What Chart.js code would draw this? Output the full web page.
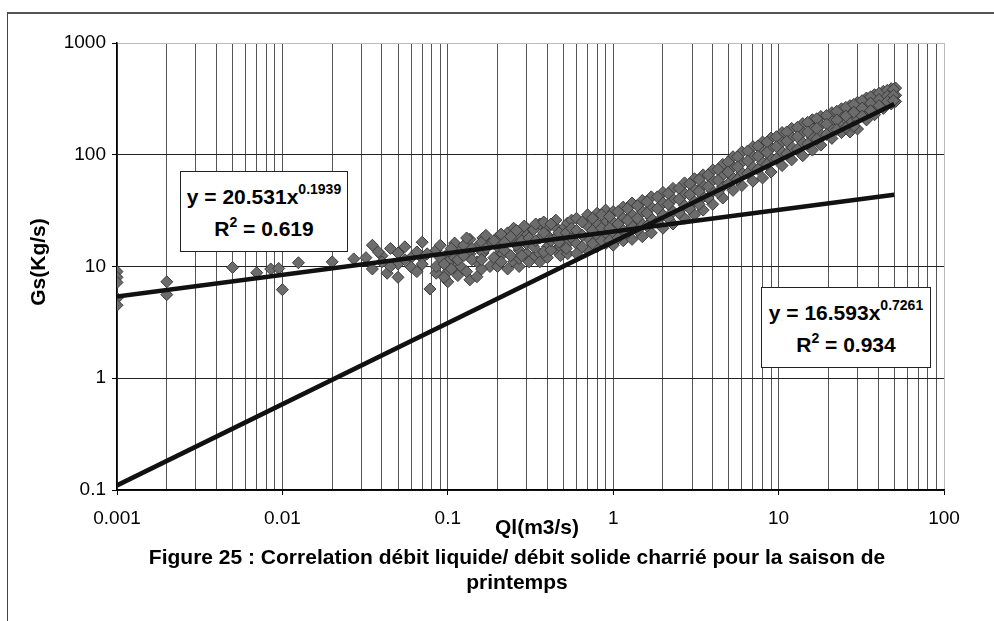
<!DOCTYPE html>
<html>
<head>
<meta charset="utf-8">
<script src="https://cdn.jsdelivr.net/npm/chart.js@4.4.0/dist/chart.umd.min.js"></script>
<style>
  body { margin: 0; background: #fff; overflow: hidden; font-family: "Liberation Sans", Arial, sans-serif; }
  #wrap { position: relative; width: 994px; height: 621px; }
  #frame { position: absolute; left: 7px; top: 12px; width: 1100px; height: 700px; border-left: 1px solid #444; border-top: 2px solid #555; }
  #gastos { position: absolute; left: 0; top: 0; }
  .eq { position: absolute; background: #fff; border: 1px solid #222; box-sizing: border-box; padding-top: 9px;
        font-weight: bold; font-size: 21px; line-height: 32px; text-align: center; color: #000; white-space: nowrap; }
  .eq .sup { font-size: 14px; line-height: 1; vertical-align: 10px; }
  .eq .sq { font-size: 14px; line-height: 1; vertical-align: 9px; }
  .title { position: absolute; font-weight: bold; font-size: 21px; line-height: 24px; text-align: center; color: #000; white-space: nowrap; }
  #ytitle { left: -62px; top: 250px; width: 200px; transform: rotate(-90deg); }
  #xtitle { left: 437px; top: 515px; width: 200px; }
  #caption { position: absolute; left: 40px; width: 954px; top: 544px; text-align: center; font-weight: bold;
             font-size: 21px; line-height: 25px; white-space: nowrap; color: #000; }
</style>
</head>
<body>
<div id="wrap">
  <div id="frame"></div>
  <canvas id="gastos" width="994" height="621"></canvas>
  <div class="eq" style="left:180px;top:171px;width:168px;height:81px">y = 20.531x<span class="sup">0.1939</span><br>R<span class="sq">2</span> = 0.619</div>
  <div class="eq" style="left:761px;top:287px;width:170px;height:81px">y = 16.593x<span class="sup">0.7261</span><br>R<span class="sq">2</span> = 0.934</div>
  <div class="title" id="ytitle">Gs(Kg/s)</div>
  <div class="title" id="xtitle">Ql(m3/s)</div>
  <div id="caption">Figure 25 : Correlation débit liquide/ débit solide charrié pour la saison de<br>printemps</div>
</div>
<script>
// axes
const xMajor = [0.001, 0.01, 0.1, 1, 10, 100];
const xLabels = ["0.001", "0.01", "0.1", "1", "10", "100"];
const yMajor = [0.1, 1, 10, 100, 1000];
const yLabels = ["0.1", "1", "10", "100", "1000"];

const qlValues = [
  // faibles debits
  0.001, 0.001, 0.001, 0.001, 0.001, 0.002, 0.002, 0.005, 0.007, 0.0085, 0.0095, 0.01, 0.0125, 0.02, 0.027,
  // nuage 0.03 - 0.56
  0.035, 0.035, 0.04, 0.04, 0.043, 0.05, 0.05, 0.05, 0.06, 0.06, 0.07, 0.07, 0.07, 0.078,
  0.085, 0.085, 0.085, 0.1, 0.1, 0.1, 0.1, 0.11, 0.11, 0.11, 0.12, 0.12, 0.136, 0.136, 0.136,
  0.15, 0.15, 0.15, 0.163, 0.163, 0.18, 0.18, 0.2, 0.2, 0.2, 0.2, 0.215, 0.23, 0.23,
  0.25, 0.25, 0.25, 0.27, 0.27, 0.27, 0.27, 0.3, 0.3, 0.3, 0.3, 0.33, 0.33, 0.33,
  0.36, 0.36, 0.36, 0.36, 0.4, 0.4, 0.4, 0.4, 0.45, 0.45, 0.45, 0.45, 0.48, 0.48, 0.5, 0.5, 0.53, 0.53, 0.53,
  0.032, 0.038, 0.045, 0.045, 0.055, 0.055, 0.065, 0.065, 0.075, 0.09, 0.09, 0.095, 0.095,
  0.105, 0.105, 0.115, 0.115, 0.125, 0.125, 0.13, 0.13, 0.14, 0.14, 0.16, 0.16, 0.16,
  0.17, 0.17, 0.19, 0.19, 0.21, 0.21, 0.22, 0.22, 0.24, 0.24, 0.26, 0.26, 0.28, 0.28, 0.29,
  0.31, 0.31, 0.34, 0.34, 0.38, 0.38, 0.38, 0.42, 0.42, 0.42, 0.47, 0.47, 0.52, 0.52, 0.56, 0.56, 0.56,
  // bande 0.6 - 51
  0.6, 0.6, 0.6, 0.6, 0.7, 0.7, 0.7, 0.7, 0.8, 0.8, 0.8, 0.8, 0.9, 0.9, 0.9, 0.9,
  1.0, 1.0, 1.0, 1.0, 1.15, 1.15, 1.15, 1.15, 1.3, 1.3, 1.3, 1.3, 1.5, 1.5, 1.5, 1.5,
  1.7, 1.7, 1.7, 1.7, 2.0, 2.0, 2.0, 2.0, 2.3, 2.3, 2.3, 2.3, 2.7, 2.7, 2.7, 2.7,
  3.1, 3.1, 3.1, 3.1, 3.5, 3.5, 3.5, 3.5, 4.0, 4.0, 4.0, 4.0, 4.6, 4.6, 4.6, 4.6,
  5.3, 5.3, 5.3, 5.3, 6.0, 6.0, 6.0, 6.0, 7.0, 7.0, 7.0, 7.0, 8.0, 8.0, 8.0, 8.0,
  9.0, 9.0, 9.0, 9.0, 10.5, 10.5, 10.5, 10.5, 12, 12, 12, 12, 14, 14, 14, 14,
  16, 16, 16, 16, 18, 18, 18, 18, 21, 21, 21, 21, 24, 24, 24, 24,
  27, 27, 27, 27, 30, 30, 30, 30, 34, 34, 34, 34, 38, 38, 38, 38,
  43, 43, 43, 43, 48, 48, 48, 48, 51, 51, 51,
  0.65, 0.65, 0.65, 0.75, 0.75, 0.75, 0.85, 0.85, 0.85, 0.95, 0.95, 0.95,
  1.07, 1.07, 1.07, 1.22, 1.22, 1.22, 1.4, 1.4, 1.4, 1.6, 1.6, 1.6,
  1.85, 1.85, 1.85, 2.15, 2.15, 2.15, 2.5, 2.5, 2.5, 2.9, 2.9, 2.9,
  3.3, 3.3, 3.3, 3.75, 3.75, 3.75, 4.3, 4.3, 4.3, 4.95, 4.95, 4.95,
  5.65, 5.65, 5.65, 6.5, 6.5, 6.5, 7.5, 7.5, 7.5, 8.5, 8.5, 8.5,
  9.7, 9.7, 9.7, 11.2, 11.2, 11.2, 13, 13, 13, 15, 15, 15,
  17, 17, 17, 19.5, 19.5, 19.5, 22.5, 22.5, 22.5, 25.5, 25.5, 25.5,
  28.5, 28.5, 28.5, 32, 32, 32, 36, 36, 36, 40.5, 40.5, 40.5,
  45.5, 45.5, 45.5, 49.5, 49.5, 49.5
];
const gsValues = [
  9.0, 8.0, 7.2, 5.2, 4.5, 7.3, 5.6, 9.8, 8.8, 9.5, 9.6, 6.2, 10.8, 11.0, 11.7,
  15.5, 9.5, 12.5, 11, 8.7, 13.2, 10.5, 8.0, 12, 9.9, 16.5, 11.9, 10.5, 6.3,
  14, 8.7, 10, 13, 11, 7.3, 9, 16.2, 12, 9.6, 14, 10, 7.6, 17.5, 13,
  8.1, 11, 15, 13.2, 18, 10, 16, 18.3, 10, 12.5, 15, 13, 20, 9.5,
  11, 17, 22, 10, 11.8, 20, 14, 13, 16, 22, 19, 21.5, 12, 15,
  24, 18, 13, 11, 15, 22, 12, 19, 22.4, 14, 18, 26, 15, 12.5, 18.5, 22, 24.5, 13, 16,
  12, 13.5, 14.5, 10, 11.5, 15, 13.5, 9, 13, 12, 15.5, 10.5, 8,
  14.5, 9.5, 8.3, 11.5, 12.5, 15.5, 9, 18, 11.5, 14.5, 9.5, 16.5, 11.5,
  14.5, 19, 12, 17, 11, 19.5, 14, 16.5, 12.5, 18.5, 15.5, 21, 17, 12.5, 23,
  11, 18, 17, 24, 13.5, 20, 25, 14, 17, 24, 20, 16.5, 20, 14.5, 26, 18, 22,
  27, 21, 16, 13, 29, 23, 18, 14, 30, 24, 19, 15, 32, 26, 20, 16,
  31, 25, 20, 15.5, 34, 27, 21, 17, 37, 29, 23, 17.5, 39, 31, 24, 18.5,
  42, 34, 27, 20, 46, 37, 29, 22, 50, 40, 31, 24, 56, 45, 35, 27,
  61, 49, 38, 29, 66, 53, 42, 32, 73, 59, 47, 36, 82, 66, 52, 41,
  96, 78, 62, 48, 106, 86, 69, 53, 118, 96, 77, 58, 130, 106, 85, 62,
  141, 115, 93, 70, 158, 130, 106, 80, 172, 143, 117, 90, 190, 158, 128, 98,
  206, 172, 142, 110, 220, 185, 152, 122, 238, 200, 168, 140, 258, 218, 180, 158,
  275, 235, 195, 160, 295, 250, 210, 170, 322, 280, 240, 205, 345, 300, 262, 228,
  370, 325, 290, 260, 390, 350, 310, 285, 395, 340, 300,
  25, 19, 15, 27, 21, 16, 29, 22, 17, 28, 22, 17,
  31, 24, 18, 33, 26, 20, 35, 27, 21, 38, 30, 23,
  42, 33, 25, 45, 36, 27, 50, 40, 30, 55, 44, 33,
  60, 47, 36, 66, 52, 41, 74, 59, 46, 86, 70, 55,
  96, 78, 60, 108, 88, 68, 120, 97, 74, 130, 105, 82,
  145, 118, 92, 160, 132, 102, 176, 145, 112, 195, 160, 125,
  210, 172, 138, 225, 188, 152, 245, 205, 168, 265, 222, 175,
  282, 240, 180, 305, 262, 222, 330, 290, 248, 355, 312, 275,
  378, 335, 300, 385, 340, 305
];

// courbes de tendance (puissance), extremites
const trendQl = [0.001, 50];
const trendGsA = [5.38, 43.8];   // y = 20.531x^0.1939
const trendGsB = [0.110, 284];   // y = 16.593x^0.7261

const xGrid = [];
for (let i = 0; i < xMajor.length - 1; i++) {
  for (let m = 1; m <= 9; m++) xGrid.push(+(m * xMajor[i]).toPrecision(6));
}
xGrid.push(100);

const label = (list, labels, v) => {
  const i = list.indexOf(v);
  return i >= 0 ? labels[i] : "";
};

const font = "'Liberation Sans', Arial, sans-serif";
const ctx = document.getElementById("gastos").getContext("2d");
const myChart = new Chart(ctx, {
  data: {
    datasets: [
      {
        type: "line",
        data: trendQl.map((x, i) => ({ x, y: trendGsA[i] })),
        borderColor: "#111",
        borderWidth: 4.5,
        pointRadius: 0,
        order: 0,
      },
      {
        type: "line",
        data: trendQl.map((x, i) => ({ x, y: trendGsB[i] })),
        borderColor: "#111",
        borderWidth: 4.5,
        pointRadius: 0,
        order: 0,
      },
      {
        type: "scatter",
        data: qlValues.map((x, i) => ({ x, y: gsValues[i] })),
        pointStyle: "rectRot",
        pointRadius: 6,
        backgroundColor: "#6c6c6c",
        borderColor: "#3c3c3c",
        borderWidth: 1,
        order: 1,
      },
    ],
  },
  options: {
    responsive: false,
    animation: false,
    events: [],
    layout: { padding: { left: 0, top: 43, right: 50, bottom: 0 } },
    plugins: { legend: { display: false }, tooltip: { enabled: false } },
    scales: {
      x: {
        type: "logarithmic",
        min: 0.001,
        max: 100,
        afterBuildTicks: (s) => { s.ticks = xGrid.map((v) => ({ value: v })); },
        afterFit: (s) => { s.height = 131; },
        ticks: {
          autoSkip: false,
          maxRotation: 0,
          padding: 12,
          color: "#000",
          font: { family: font, size: 19 },
          callback: (v) => label(xMajor, xLabels, v),
        },
        grid: {
          color: (c) => (c.tick && c.tick.value === 100 ? "#bbb" : "#555"),
          lineWidth: 1,
          tickLength: 5,
          tickColor: (c) => (c.tick && xMajor.includes(c.tick.value) ? "#000" : "rgba(0,0,0,0)"),
        },
        border: { color: "#000", width: 1.5 },
      },
      y: {
        type: "logarithmic",
        min: 0.1,
        max: 1000,
        afterBuildTicks: (s) => { s.ticks = yMajor.map((v) => ({ value: v })); },
        afterFit: (s) => { s.width = 117; },
        ticks: {
          autoSkip: false,
          padding: 6,
          color: "#000",
          font: { family: font, size: 19 },
          callback: (v) => label(yMajor, yLabels, v),
        },
        grid: {
          color: (c) => (c.tick && c.tick.value === 1000 ? "#bbb" : "#222"),
          lineWidth: 1,
          tickLength: 5,
          tickColor: "#000",
        },
        border: { color: "#000", width: 1.5 },
      },
    },
  },
});
</script>
</body>
</html>
